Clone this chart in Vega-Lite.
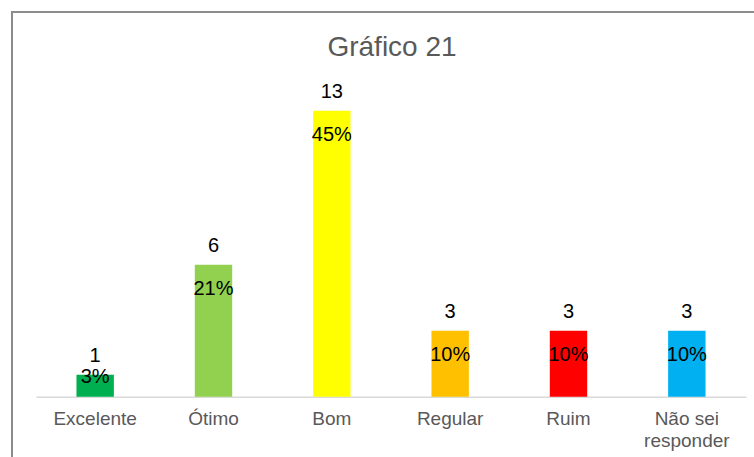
{
  "$schema": "https://vega.github.io/schema/vega-lite/v6.json",
  "autosize": {"type": "none"},
  "width": 760,
  "height": 460,
  "padding": {"left": 12, "top": 12, "right": 0, "bottom": 0},
  "background": "white",
  "config": {
    "font": "Liberation Sans",
    "view": {"stroke": "#8c8c8c", "strokeWidth": 2}
  },
  "title": {
    "text": "Gráfico 21",
    "fontSize": 28,
    "fontWeight": "normal",
    "color": "#595959",
    "font": "Liberation Sans",
    "anchor": "middle",
    "frame": "group",
    "baseline": "alphabetic",
    "offset": -72
  },
  "data": {
    "values": [
      {"categoria": "Excelente", "count": 1, "pct": 0.034},
      {"categoria": "Ótimo", "count": 6, "pct": 0.207},
      {"categoria": "Bom", "count": 13, "pct": 0.448},
      {"categoria": "Regular", "count": 3, "pct": 0.103},
      {"categoria": "Ruim", "count": 3, "pct": 0.103},
      {"categoria": "Não sei responder", "count": 3, "pct": 0.103}
    ]
  },
  "encoding": {
    "x": {
      "field": "categoria",
      "type": "nominal",
      "sort": null,
      "scale": {"range": [24, 734], "paddingInner": 0.684, "paddingOuter": 0.342},
      "axis": {
        "title": null,
        "orient": "bottom",
        "offset": -75.3,
        "ticks": false,
        "labelAngle": 0,
        "labelPadding": 13,
        "labelFontSize": 19,
        "labelColor": "#595959",
        "labelOverlap": false,
        "labelLineHeight": 22,
        "labelExpr": "datum.label == 'Não sei responder' ? ['Não sei', 'responder'] : datum.label",
        "domainColor": "#d9d9d9",
        "domainWidth": 1.5,
        "grid": false
      }
    },
    "y": {
      "field": "count",
      "type": "quantitative",
      "scale": {"domain": [0, 14], "range": [384.7, 76.7], "nice": false},
      "axis": null
    }
  },
  "layer": [
    {
      "mark": {"type": "bar"},
      "encoding": {
        "color": {
          "field": "categoria",
          "type": "nominal",
          "scale": {
            "domain": ["Excelente", "Ótimo", "Bom", "Regular", "Ruim", "Não sei responder"],
            "range": ["#00B050", "#92D050", "#FFFF00", "#FFC000", "#FF0000", "#00B0F0"]
          },
          "legend": null
        }
      }
    },
    {
      "mark": {"type": "text", "baseline": "alphabetic", "dy": -13, "fontSize": 20, "color": "#000000"},
      "encoding": {"text": {"field": "count", "type": "quantitative"}}
    },
    {
      "transform": [{"filter": "datum.count >= 3"}],
      "mark": {"type": "text", "baseline": "alphabetic", "dy": 30.5, "fontSize": 20, "color": "#000000"},
      "encoding": {"text": {"field": "pct", "type": "quantitative", "format": ".0%"}}
    },
    {
      "transform": [{"filter": "datum.count < 3"}],
      "mark": {"type": "text", "baseline": "alphabetic", "dy": 8, "fontSize": 20, "color": "#000000"},
      "encoding": {"text": {"field": "pct", "type": "quantitative", "format": ".0%"}}
    }
  ]
}
